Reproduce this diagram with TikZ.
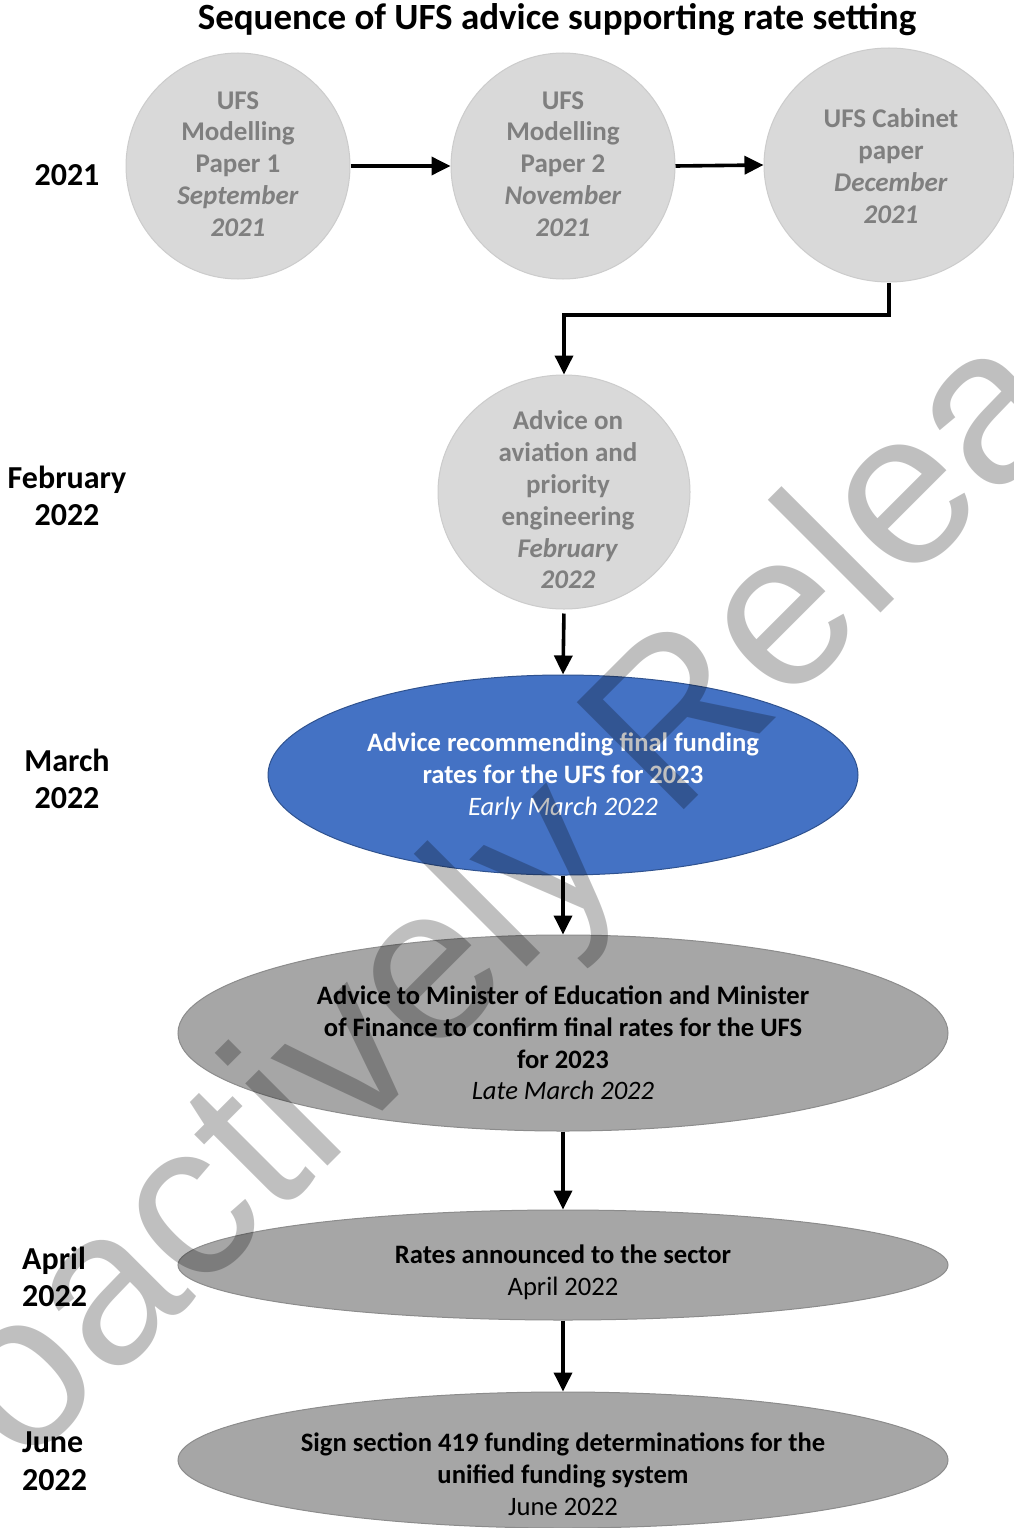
\documentclass[tikz,border=0pt]{standalone}
\usepackage{fontspec}
\setmainfont{Carlito}
\newfontfamily\wmfont{Liberation Sans}
\usetikzlibrary{arrows.meta,shapes.geometric}
\definecolor{circfill}{RGB}{217,217,217}
\definecolor{circline}{RGB}{204,204,204}
\definecolor{circtext}{RGB}{127,127,127}
\definecolor{blufill}{RGB}{68,114,196}
\definecolor{bluline}{RGB}{47,82,143}
\definecolor{grayfill}{RGB}{166,166,166}
\definecolor{grayline}{RGB}{140,140,140}
\begin{document}
\begin{tikzpicture}[x=1pt,y=-1pt,
  circ/.style={ellipse, fill=circfill, draw=circline, line width=1pt, inner sep=0pt},
  blueell/.style={ellipse, fill=blufill, draw=bluline, line width=1pt, inner sep=0pt},
  grayell/.style={ellipse, fill=grayfill, draw=grayline, line width=1pt, inner sep=0pt},
  ctext/.style={align=center, inner sep=0pt, text=circtext, font=\fontsize{27}{31.8}\selectfont\bfseries},
  etext/.style={align=center, inner sep=0pt, font=\fontsize{26.6}{31.8}\selectfont},
  yeartext/.style={align=center, inner sep=0pt, font=\fontsize{32}{37.5}\selectfont\bfseries},
  arr/.style={-{Triangle[length=19pt,width=18pt]}, line width=3.6pt, black}]
\useasboundingbox (0,0) rectangle (1014,1528);
\fill[white] (0,0) rectangle (1014,1528);
\begin{scope}
\clip (0,0) rectangle (1014,1528);

% title
\node[inner sep=0pt, font=\fontsize{37}{40}\selectfont\bfseries] (title) at (557,20) {Sequence of UFS advice supporting rate setting};

% year labels
\node[yeartext] (y2021) at (67,175) {2021};
\node[yeartext] (yfeb) at (67,496) {February\\2022};
\node[yeartext] (ymar) at (67,779) {March\\2022};
\node[yeartext, align=left, anchor=west] (yapr) at (22,1277) {April\\2022};
\node[yeartext, align=left, anchor=west] (yjun) at (22,1461) {June\\2022};

% circles
\node[circ, minimum width=224pt, minimum height=226pt] (c1) at (238,166) {};
\node[circ, minimum width=224pt, minimum height=226pt] (c2) at (563,166) {};
\node[circ, minimum width=250pt, minimum height=234pt] (c3) at (889,165) {};
\node[circ, minimum width=252pt, minimum height=234pt] (c4) at (564,492) {};

\node[ctext] (c1t) at (238,164) {UFS\\Modelling\\Paper 1\\\textit{September}\\\textit{2021}};
\node[ctext] (c2t) at (563,164) {UFS\\Modelling\\Paper 2\\\textit{November}\\\textit{2021}};
\node[ctext] (c3t) at (891,166) {UFS Cabinet\\paper\\\textit{December}\\\textit{2021}};
\node[ctext] (c4t) at (568,500) {Advice on\\aviation and\\priority\\engineering\\\textit{February}\\\textit{2022}};

% ellipses
\node[blueell, minimum width=590pt, minimum height=200pt] (e1) at (563,775) {};
\node[grayell, minimum width=770pt, minimum height=196pt] (e2) at (563,1033) {};
\node[grayell, minimum width=770pt, minimum height=110pt] (e3) at (563,1265) {};
\node[grayell, minimum width=770pt, minimum height=136pt] (e4) at (563,1460) {};

\node[etext, text=white] (e1t) at (563,776) {\textbf{Advice recommending final funding}\\\textbf{rates for the UFS for 2023}\\\textit{Early March 2022}};
\node[etext] (e2t) at (563,1043) {\textbf{Advice to Minister of Education and Minister}\\\textbf{of Finance to confirm final rates for the UFS}\\\textbf{for 2023}\\\textit{Late March 2022}};
\node[etext] (e3t) at (563,1272) {\textbf{Rates announced to the sector}\\April 2022};
\node[etext] (e4t) at (563,1474) {\textbf{Sign section 419 funding determinations for the}\\\textbf{unified funding system}\\June 2022};

% connectors
\coordinate (bend) at (889,315);
\draw[arr] (c1.east) -- (c2.west);
\draw[arr] (c2.east) -- (c3.west);
\draw[arr] (c3.south) -- (bend) -| (c4.north);
\draw[arr, shorten <=4pt] (c4.south) -- (e1.north);
\draw[arr] (e1.south) -- (e2.north);
\draw[arr] (e2.south) -- (e3.north);
\draw[arr] (e3.south) -- (e4.north);

% watermark
\node[rotate=45, anchor=base west, inner sep=0pt, text=black, text opacity=0.25,
      font=\wmfont\fontsize{220}{220}\selectfont] (wm) at (-132,1626) {Proactively Released};
\end{scope}
\end{tikzpicture}
\end{document}
